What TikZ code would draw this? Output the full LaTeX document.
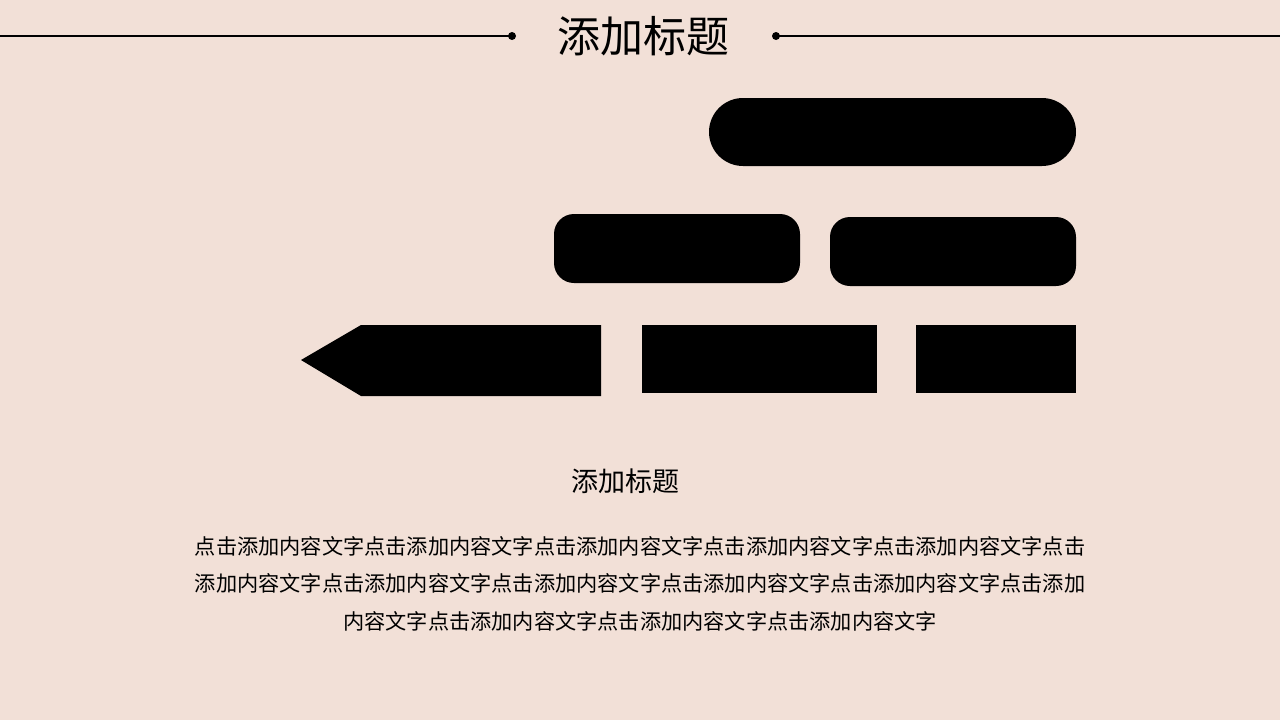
\documentclass[tikz,border=0pt]{standalone}
\usepackage{fontspec}
\setmainfont{Noto Sans CJK SC}
\definecolor{bg}{HTML}{F2E0D7}
\begin{document}
\begin{tikzpicture}[x=1pt,y=-1pt,
  shp/.style={fill=black,draw=none},
  dotc/.style={circle,fill=black,inner sep=0pt,minimum size=8pt},
  body/.style={anchor=base,inner sep=0pt,font=\fontsize{21.2}{26}\selectfont},
]
\fill[bg] (0,0) rectangle (1280,720);
\useasboundingbox (0,0) rectangle (1280,720);
% title
\node[anchor=base,inner sep=0pt,font=\fontsize{43}{50}\selectfont] (title) at (643,52) {添加标题};
\coordinate (l0) at (0,36);
\coordinate (r0) at (1280,36);
\node[dotc] (dl) at (512,36) {};
\node[dotc] (dr) at (776,36) {};
\draw[line width=1.6pt] (l0) -- (dl.center);
\draw[line width=1.6pt] (dr.center) -- (r0);
% shapes
\fill[shp,rounded corners=34pt] (709,98) rectangle (1076,166);
\fill[shp,rounded corners=20pt] (554,214) rectangle (800,283);
\fill[shp,rounded corners=20pt] (830,217) rectangle (1076,286);
\fill[shp] (301,360) -- (361,325) -- (601,325) -- (601,396) -- (361,396) -- cycle;
\fill[shp] (642,325) rectangle (877,393);
\fill[shp] (916,325) rectangle (1076,393);
% texts
\node[anchor=base,inner sep=0pt,font=\fontsize{27}{32}\selectfont] (sub) at (625,491) {添加标题};
\node[body] (b1) at (640,554) {点击添加内容文字点击添加内容文字点击添加内容文字点击添加内容文字点击添加内容文字点击};
\node[body] (b2) at (640,591) {添加内容文字点击添加内容文字点击添加内容文字点击添加内容文字点击添加内容文字点击添加};
\node[body] (b3) at (640,629) {内容文字点击添加内容文字点击添加内容文字点击添加内容文字};
\end{tikzpicture}
\end{document}
